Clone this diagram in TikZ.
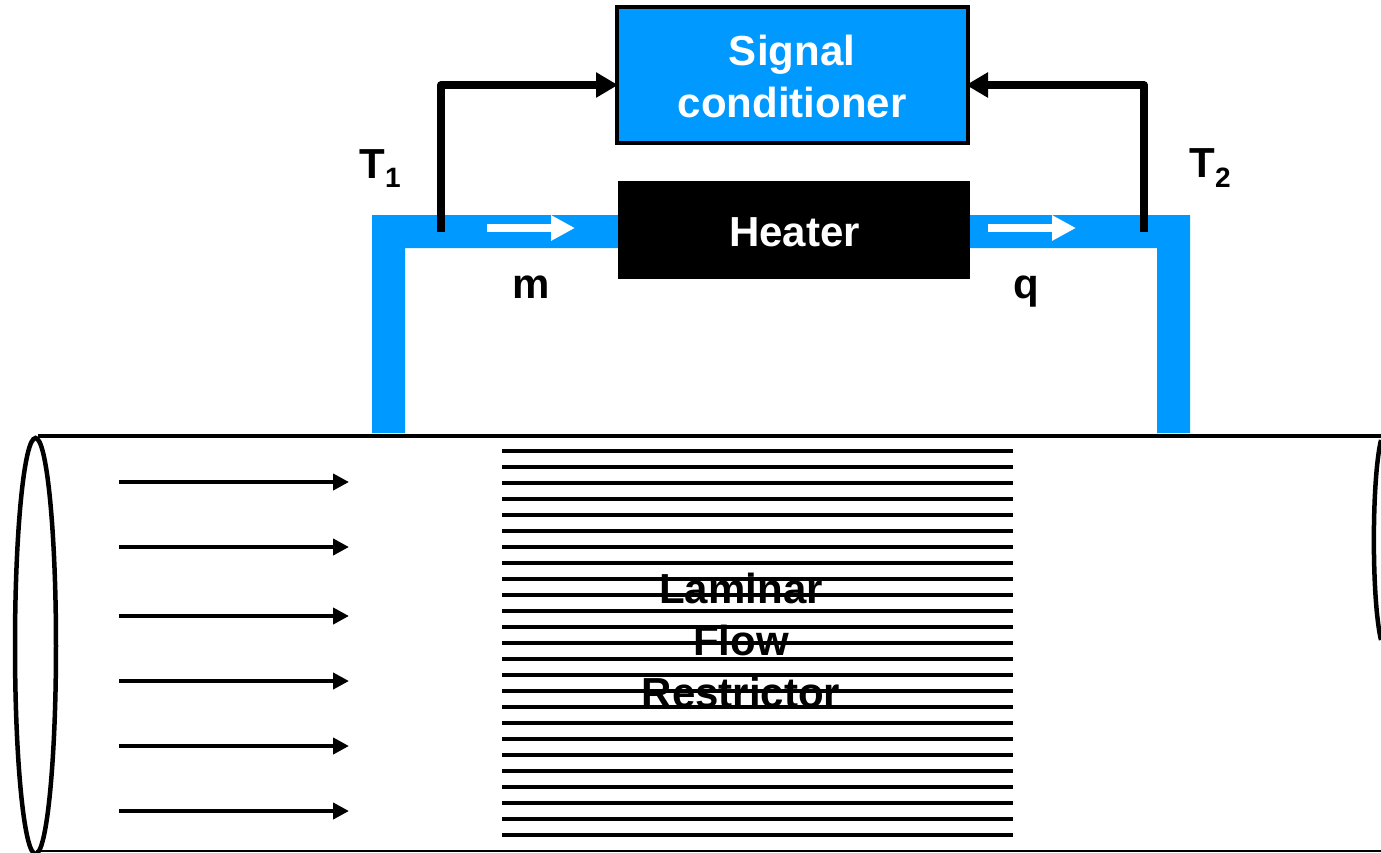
\documentclass[tikz,border=0pt]{standalone}
\usepackage{fontspec}
\setmainfont{Liberation Sans}
\usetikzlibrary{arrows.meta}
\definecolor{pipeblue}{HTML}{0099FF}
\tikzset{
  lbl/.style={font=\fontsize{42}{51.5}\selectfont\bfseries, inner sep=0pt, align=center},
  lblbase/.style={lbl, anchor=base},
  subs/.style={font=\fontsize{28}{30}\selectfont\bfseries, inner sep=0pt, anchor=base west},
  pipe/.style={fill=pipeblue, draw=none},
  signal/.style={line width=8pt, line join=round, -{Triangle[length=22pt,width=24pt]}},
  flowin/.style={draw=white, line width=8pt, -{Triangle[length=24pt,width=24pt,fill=white]}},
  flow/.style={line width=4pt, -{Triangle[length=16pt,width=16pt]}},
  hatch/.style={line width=4pt},
  tube/.style={line width=4pt},
}
\begin{document}
\begin{tikzpicture}[x=1pt,y=-1pt]
\useasboundingbox (0,0) rectangle (1381,852);
\clip (0,0) rectangle (1381,852);
% pipe
\fill[pipe] (372,433) -- (372,215) -- (1190,215) -- (1190,433) -- (1157,433) -- (1157,248) -- (405,248) -- (405,433) -- cycle;
% boxes
\node[draw=black, line width=3.5pt, fill=pipeblue, minimum width=351pt, minimum height=136pt, inner sep=0pt, outer sep=0pt, anchor=north west] (sig) at (617,7) {};
\node[lbl, text=white] (sigtext) at (792,76.5) {Signal\\conditioner};
\node[fill=black, minimum width=352pt, minimum height=98pt, inner sep=0pt, outer sep=0pt, anchor=north west] (heater) at (618,181) {};
\node[lblbase, text=white] (heatertext) at (794.5,246) {Heater};
% sensor connectors
\coordinate (t1) at (441,232);
\coordinate (t2) at (1144,232);
\coordinate (sigL) at (618,85);
\coordinate (sigR) at (966,85);
\draw[signal] (t1) |- (sigL);
\draw[signal] (t2) |- (sigR);
% internal flow arrows
\coordinate (a1) at (487,228); \coordinate (a2) at (575,228);
\coordinate (b1) at (988,228); \coordinate (b2) at (1076,228);
\draw[flowin] (a1) -- (a2);
\draw[flowin] (b1) -- (b2);
% labels
\node[lblbase] (m) at (531.5,298.5) {m};
\node[lblbase] (q) at (1026,298.5) {q};
\node[lbl, anchor=base west] (T1) at (359,178) {T};
\node[subs] (s1) at (385,187) {1};
\node[lbl, anchor=base west] (T2) at (1189,177) {T};
\node[subs] (s2) at (1215,187) {2};
% restrictor text under its lines
\node[lblbase] (lam) at (741,603.5) {Laminar};
\node[lblbase] (flw) at (741,655.5) {Flow};
\node[lblbase] (res) at (741,707) {Restrictor};
\foreach \i in {0,...,24}{
  \draw[hatch] (502,451+16*\i) -- (1013,451+16*\i);
}
% tube
\draw[tube] (38,436) -- (1381,436);
\draw[line width=2pt] (36,851) -- (1381,851);
\draw[line width=4.5pt] (35.5,646) ellipse [x radius=20.5, y radius=208];
\draw[line width=4.5pt] (1381,440) .. controls (1371.5,480) and (1371.5,600) .. (1381,640);
% flow arrows
\foreach \y/\n in {482/1,547/2,616/3,681/4,746/5,811/6}{
  \coordinate (fs\n) at (119,\y);
  \coordinate (fe\n) at (349,\y);
  \draw[flow] (fs\n) -- (fe\n);
}
\end{tikzpicture}
\end{document}
